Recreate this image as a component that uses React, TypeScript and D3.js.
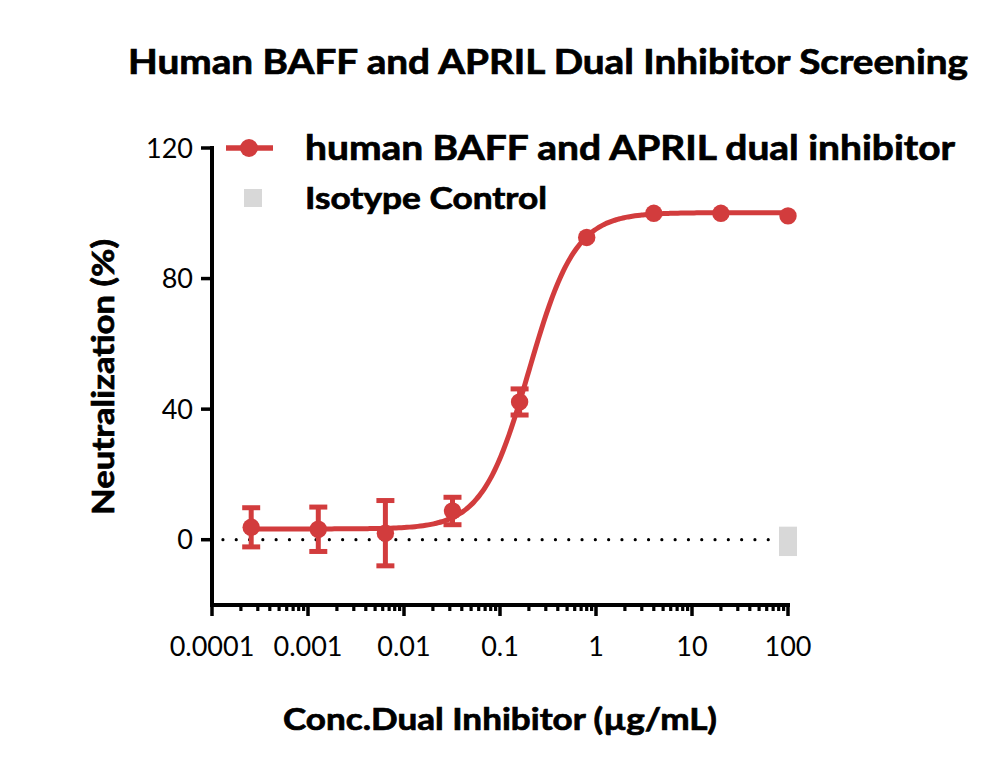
import React, { useEffect, useRef } from 'react';
import * as d3 from 'd3';

// dilution series (µg/mL) and mean neutralization (%) with SD
const CONC = [0.000256, 0.00128, 0.0064, 0.032, 0.16, 0.8, 4, 20, 100];
const NEUTRALIZATION = [3.8, 3.2, 2.0, 8.8, 42.2, 92.6, 100.0, 100.0, 99.2];
const ERRORS = [6.0, 6.8, 10.0, 4.2, 4.0, 0, 0, 0, 0];

// isotype control: single point at the top concentration
const ISO_CONC = [100];
const ISO_VALUES = [-0.5];
const ISO_ERRORS = [4.5];

// 4PL fit parameters of the inhibitor curve
const FIT_BOTTOM = 3.3;
const FIT_TOP = 100.2;
const FIT_EC50 = 0.2;
const FIT_HILL = 1.8;

const X_TICKS = [0.0001, 0.001, 0.01, 0.1, 1, 10, 100];
const X_TICK_LABELS = ['0.0001', '0.001', '0.01', '0.1', '1', '10', '100'];
const Y_TICKS = [0, 40, 80, 120];

const RED = '#d23c3d';
const GRAY = '#d8d8d8';
const FONT = 'Lato, "Open Sans", sans-serif';

const App: React.FC = () => {
  const svgRef = useRef<SVGSVGElement>(null);

  useEffect(() => {
    if (!svgRef.current) return;
    document.body.style.margin = '0';

    const svg = d3.select(svgRef.current);
    svg.selectAll('*').remove();

    const x = d3.scaleLog().domain([0.0001, 100]).range([212, 788]);
    const y = d3.scaleLinear().domain([-20, 120]).range([605, 148]);

    const boldText = (sel: d3.Selection<SVGTextElement, unknown, null, undefined>) =>
      sel.attr('font-family', FONT).attr('font-weight', 'bold')
        .attr('stroke', '#000').attr('stroke-width', 0.7).attr('fill', '#000');

    // title
    svg.append('text')
      .attr('x', 548).attr('y', 74)
      .attr('text-anchor', 'middle')
      .attr('font-size', 34)
      .attr('textLength', 840).attr('lengthAdjust', 'spacingAndGlyphs')
      .call(boldText)
      .text('Human BAFF and APRIL Dual Inhibitor Screening');

    // zero reference line
    svg.append('line')
      .attr('x1', x(0.00013)).attr('x2', x(90))
      .attr('y1', y(0)).attr('y2', y(0))
      .attr('stroke', '#000').attr('stroke-width', 3.2)
      .attr('stroke-linecap', 'round')
      .attr('stroke-dasharray', '0 13.3');

    // y axis
    svg.append('line')
      .attr('x1', 212).attr('x2', 212)
      .attr('y1', y(120) - 2).attr('y2', y(-20) + 2)
      .attr('stroke', '#000').attr('stroke-width', 4);
    const yt = svg.append('g');
    Y_TICKS.forEach((t) => {
      yt.append('line')
        .attr('x1', 201).attr('x2', 212)
        .attr('y1', y(t)).attr('y2', y(t))
        .attr('stroke', '#000').attr('stroke-width', 3.5);
      yt.append('text')
        .attr('x', 193).attr('y', y(t))
        .attr('dy', '0.36em')
        .attr('text-anchor', 'end')
        .attr('font-family', FONT).attr('font-size', 27)
        .text(String(t));
    });

    // x axis
    svg.append('line')
      .attr('x1', 210).attr('x2', 790)
      .attr('y1', 605).attr('y2', 605)
      .attr('stroke', '#000').attr('stroke-width', 4);
    const minor: number[] = [];
    for (let e = -4; e < 2; e++) {
      for (let m = 2; m <= 9; m++) minor.push(m * Math.pow(10, e));
    }
    svg.append('g').selectAll('line')
      .data(minor)
      .enter().append('line')
      .attr('x1', (d) => x(d)).attr('x2', (d) => x(d))
      .attr('y1', 605).attr('y2', 611)
      .attr('stroke', '#000').attr('stroke-width', 3.2);
    X_TICKS.forEach((t, i) => {
      svg.append('line')
        .attr('x1', x(t)).attr('x2', x(t))
        .attr('y1', 605).attr('y2', 616)
        .attr('stroke', '#000').attr('stroke-width', 3.5);
      svg.append('text')
        .attr('x', x(t)).attr('y', 656)
        .attr('text-anchor', 'middle')
        .attr('font-family', FONT).attr('font-size', 27)
        .text(X_TICK_LABELS[i]);
    });

    // axis titles
    svg.append('text')
      .attr('x', 500).attr('y', 730)
      .attr('text-anchor', 'middle')
      .attr('font-size', 30)
      .attr('textLength', 434).attr('lengthAdjust', 'spacingAndGlyphs')
      .call(boldText)
      .text('Conc.Dual Inhibitor (µg/mL)');
    svg.append('text')
      .attr('transform', 'translate(114,377) rotate(-90)')
      .attr('text-anchor', 'middle')
      .attr('font-size', 30)
      .attr('textLength', 276).attr('lengthAdjust', 'spacingAndGlyphs')
      .call(boldText)
      .text('Neutralization (%)');

    // isotype control marker
    const iso = svg.append('g');
    ISO_CONC.forEach((c, i) => {
      iso.append('rect')
        .attr('x', x(c) - 9).attr('width', 18)
        .attr('y', y(ISO_VALUES[i] + ISO_ERRORS[i]))
        .attr('height', y(ISO_VALUES[i] - ISO_ERRORS[i]) - y(ISO_VALUES[i] + ISO_ERRORS[i]))
        .attr('fill', GRAY);
    });

    // fitted curve
    const fit = (c: number) => FIT_BOTTOM + (FIT_TOP - FIT_BOTTOM) / (1 + Math.pow(FIT_EC50 / c, FIT_HILL));
    const logStart = Math.log10(CONC[0]);
    const logEnd = Math.log10(CONC[CONC.length - 1]);
    const curveX = d3.range(0, 201).map((k) => Math.pow(10, logStart + (logEnd - logStart) * k / 200));
    const line = d3.line<number>()
      .x((d) => x(d))
      .y((d) => y(fit(d)))
      .curve(d3.curveMonotoneX);
    svg.append('path')
      .attr('d', line(curveX))
      .attr('fill', 'none')
      .attr('stroke', RED)
      .attr('stroke-width', 5);

    // error bars
    const eb = svg.append('g').attr('stroke', RED).attr('stroke-width', 5);
    CONC.forEach((c, i) => {
      const e = ERRORS[i];
      if (e <= 0) return;
      const v = NEUTRALIZATION[i];
      const cx = x(c);
      eb.append('line').attr('x1', cx).attr('x2', cx).attr('y1', y(v + e)).attr('y2', y(v - e));
      eb.append('line').attr('x1', cx - 9).attr('x2', cx + 9).attr('y1', y(v + e)).attr('y2', y(v + e));
      eb.append('line').attr('x1', cx - 9).attr('x2', cx + 9).attr('y1', y(v - e)).attr('y2', y(v - e));
    });

    // points
    svg.append('g').selectAll('circle')
      .data(CONC)
      .enter().append('circle')
      .attr('cx', (d) => x(d))
      .attr('cy', (d, i) => y(NEUTRALIZATION[i]))
      .attr('r', 8.7)
      .attr('fill', RED);

    // legend
    const lg = svg.append('g');
    lg.append('line')
      .attr('x1', 226).attr('x2', 273).attr('y1', 148).attr('y2', 148)
      .attr('stroke', RED).attr('stroke-width', 5.5);
    lg.append('circle').attr('cx', 249).attr('cy', 148).attr('r', 9).attr('fill', RED);
    lg.append('text')
      .attr('x', 305).attr('y', 160)
      .attr('font-size', 34)
      .attr('textLength', 650).attr('lengthAdjust', 'spacingAndGlyphs')
      .call(boldText)
      .text('human BAFF and APRIL dual inhibitor');
    lg.append('rect')
      .attr('x', 244).attr('y', 189).attr('width', 18).attr('height', 18)
      .attr('fill', GRAY);
    lg.append('text')
      .attr('x', 305).attr('y', 209)
      .attr('font-size', 30)
      .attr('textLength', 242).attr('lengthAdjust', 'spacingAndGlyphs')
      .call(boldText)
      .text('Isotype Control');
  }, []);

  return (
    <svg
      ref={svgRef}
      width={1000}
      height={770}
      viewBox="0 0 1000 770"
      style={{ display: 'block', background: '#fff' }}
    />
  );
};

export default App;
